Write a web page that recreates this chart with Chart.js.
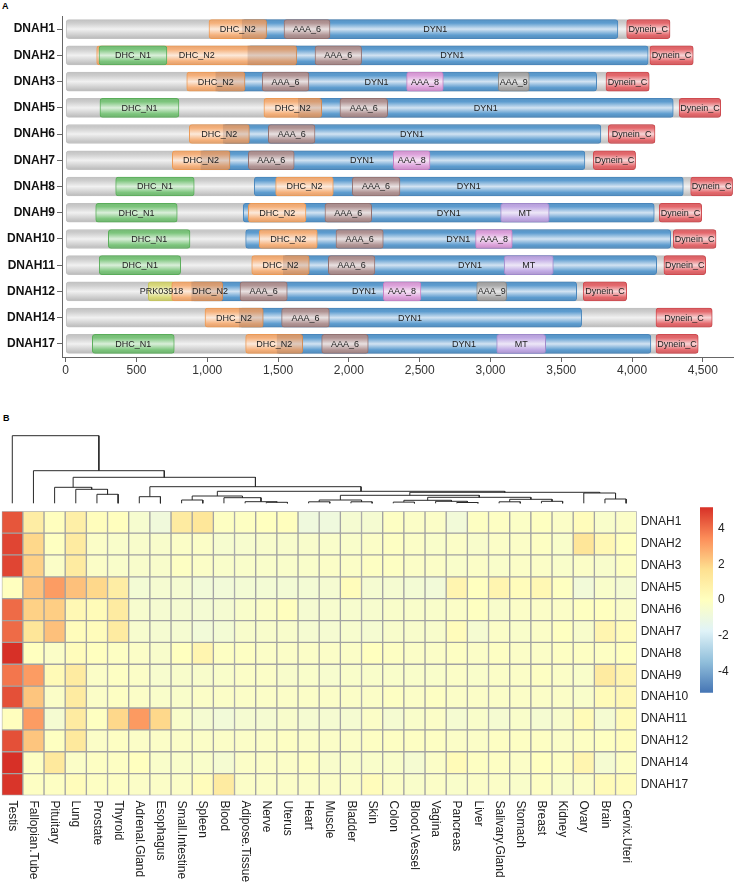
<!DOCTYPE html>
<html><head><meta charset="utf-8">
<script src="https://cdn.jsdelivr.net/npm/chart.js@4.4.0/dist/chart.umd.min.js"></script>
<style>
html,body{margin:0;padding:0;background:#fff;width:738px;height:888px;overflow:hidden;font-family:'Liberation Sans',Arial,sans-serif}
canvas{position:absolute}
.lab{position:absolute;font-weight:bold;font-size:9px;color:#000;font-family:'Liberation Sans',Arial,sans-serif}
</style></head><body>
<div class="lab" style="left:2px;top:1px">A</div>
<div class="lab" style="left:3px;top:413px">B</div>
<canvas id="cA" style="left:0;top:0;width:738px;height:385px" width="738" height="385"></canvas>
<canvas id="cD" style="left:0;top:425px;width:738px;height:85px" width="738" height="85"></canvas>
<canvas id="cH" style="left:0;top:500px;width:738px;height:388px" width="738" height="388"></canvas>
<canvas id="cL" style="left:690px;top:495px;width:48px;height:210px" width="48" height="210"></canvas>
<script>
// ---------------- Panel A data ----------------
const genes = ['DNAH1','DNAH2','DNAH3','DNAH5','DNAH6','DNAH7','DNAH8','DNAH9','DNAH10','DNAH11','DNAH12','DNAH14','DNAH17'];
const proteinLength = [4268,4432,4121,4626,4162,4025,4710,4492,4593,4520,3962,4566,4467];
const DYN1 = [[1247,3900],[1287,4114],[1061,3750],[1643,4291],[1113,3780],[956,3667],[1332,4362],[1254,4157],[1271,4273],[1537,4174],[890,3609],[1226,3644],[1494,4133]];
const DYN1_labelAt = [2610,2730,2195,null,null,2093,null,null,null,null,2107,2431,null];
const DHC_N1 = [null,[235,715],null,[242,800],null,null,[353,908],[212,788],[301,878],[237,812],null,null,[188,767]];
const DHC_N2 = [[1012,1419],[219,1631],[855,1266],[1400,1808],[873,1297],[753,1160],[1483,1890],[1290,1697],[1367,1777],[1314,1720],[749,1109],[984,1395],[1271,1674]];
const DHC_N2_labelAt = [null,null,null,null,null,null,null,null,null,null,1019,null,null];
const PRK03918 = [null,null,null,null,null,null,null,null,null,null,[583,772],null,null];
const AAA_6 = [[1542,1867],[1761,2090],[1388,1718],[1937,2274],[1431,1761],[1290,1614],[2024,2361],[1831,2161],[1909,2243],[1855,2184],[1231,1565],[1525,1862],[1808,2137]];
const AAA_8 = [null,null,[2408,2667],null,null,[2314,2573],null,null,[2895,3154],null,[2243,2509],null,null];
const AAA_9 = [null,null,[3055,3274],null,null,null,null,null,null,null,[2903,3114],null,null];
const MT = [null,null,null,null,null,null,null,[3072,3415],null,[3097,3444],null,null,[3044,3390]];
const Dynein_C = [[3962,4268],[4126,4432],[3816,4121],[4333,4626],[3832,4162],[3726,4025],[4414,4710],[4192,4492],[4291,4593],[4225,4520],[3655,3962],[4169,4566],[4169,4467]];
const xTicksA = [0,500,1000,1500,2000,2500,3000,3500,4000,4500];

// ---------------- Panel B data ----------------
const tissues = ['Testis','Fallopian.Tube','Pituitary','Lung','Prostate','Thyroid','Adrenal.Gland','Esophagus','Small.Intestine','Spleen','Blood','Adipose.Tissue','Nerve','Uterus','Heart','Muscle','Bladder','Skin','Colon','Blood.Vessel','Vagina','Pancreas','Liver','Salivary.Gland','Stomach','Breast','Kidney','Ovary','Brain','Cervix.Uteri'];
const expr_DNAH1 = [4.5,1.0,0.05,0.9,0.1,0.05,-0.5,-0.85,1.1,1.35,-0.1,-0.1,0.0,0.05,-0.9,-0.9,-0.55,-0.55,-0.12,-0.25,-0.25,-0.75,-0.1,-0.12,-0.2,-0.05,-0.25,0.15,-0.32,-0.25];
const expr_DNAH2 = [4.8,1.9,-0.05,1.1,-0.25,-0.32,-0.38,-0.38,-0.25,-0.25,-0.5,-0.45,-0.38,-0.38,-0.38,-0.32,-0.32,-0.25,-0.12,-0.25,-0.32,-0.25,-0.38,-0.25,-0.25,-0.12,-0.32,1.4,0.4,0.0];
const expr_DNAH3 = [4.8,2.05,-0.25,1.1,-0.25,-0.32,-0.38,-0.38,-0.12,-0.25,-0.32,-0.32,-0.32,-0.32,-0.32,-0.25,-0.25,-0.12,-0.12,-0.25,-0.25,-0.32,-0.25,-0.32,-0.25,-0.25,-0.32,-0.25,-0.38,-0.12];
const expr_DNAH5 = [0.0,2.35,3.15,2.4,1.9,1.0,-0.65,-0.55,-0.55,-0.75,-0.75,-0.65,-0.65,-0.65,-0.65,-0.55,0.15,-0.55,-0.55,-0.65,-0.75,0.55,0.0,0.55,0.15,0.4,-0.05,-0.75,-0.32,-0.55];
const expr_DNAH6 = [4.1,2.05,2.1,0.4,0.25,1.1,-0.45,-0.55,-0.55,-0.6,-0.55,-0.32,-0.25,0.05,-0.55,-0.45,-0.45,-0.45,-0.32,-0.32,-0.32,-0.25,-0.05,-0.38,-0.25,-0.25,-0.25,-0.05,0.0,-0.25];
const expr_DNAH7 = [4.1,1.4,2.4,0.15,0.15,1.1,-0.45,-0.55,-0.55,-0.75,-0.65,-0.38,-0.38,-0.38,-0.55,-0.55,-0.45,-0.55,-0.38,-0.38,-0.38,0.15,-0.55,-0.25,-0.32,-0.25,-0.05,-0.38,0.55,0.15];
const expr_DNAH8 = [5.2,0.0,-0.25,0.15,0.0,-0.12,-0.25,-0.38,0.0,0.55,-0.12,-0.12,-0.25,-0.25,-0.25,-0.25,-0.25,0.0,-0.12,-0.25,-0.25,-0.12,-0.25,-0.12,-0.25,-0.25,-0.12,-0.12,-0.12,0.0];
const expr_DNAH9 = [3.9,3.15,0.3,1.1,-0.25,-0.12,-0.25,-0.45,-0.38,-0.38,-0.32,-0.25,-0.25,-0.38,-0.32,-0.45,-0.32,-0.32,-0.32,-0.32,-0.32,-0.25,-0.32,-0.25,-0.25,-0.12,-0.25,-0.32,1.1,0.55];
const expr_DNAH10 = [4.6,2.3,-0.25,1.1,-0.25,-0.12,-0.25,-0.32,-0.32,-0.25,-0.25,-0.25,-0.25,-0.25,-0.25,-0.25,-0.25,-0.25,-0.12,-0.25,-0.12,-0.25,-0.25,-0.25,-0.25,-0.25,-0.25,-0.32,0.25,0.4];
const expr_DNAH11 = [0.05,3.15,-0.55,1.1,-0.05,1.9,3.2,1.9,-0.32,-0.55,-0.75,-0.55,-0.55,-0.38,-0.55,-0.55,-0.55,-0.25,-0.55,-0.32,-0.25,-0.55,-0.32,-0.55,-0.32,-0.55,-0.38,0.25,-0.55,0.25];
const expr_DNAH12 = [4.6,2.3,-0.05,1.25,-0.25,-0.12,-0.25,-0.25,-0.25,-0.25,-0.25,-0.25,-0.25,-0.12,-0.25,-0.25,-0.25,-0.12,-0.12,-0.12,-0.12,-0.25,-0.25,-0.12,-0.12,-0.12,-0.25,-0.12,-0.05,0.1];
const expr_DNAH14 = [5.2,-0.12,1.25,-0.25,-0.12,-0.12,0.0,-0.32,-0.32,-0.32,-0.55,-0.25,-0.25,-0.25,-0.12,-0.38,-0.32,-0.32,-0.32,-0.55,-0.25,0.25,-0.1,-0.12,-0.25,0.0,-0.12,0.55,-0.55,-0.12];
const expr_DNAH17 = [5.1,-0.12,-0.12,0.15,-0.12,-0.12,-0.25,-0.25,-0.25,0.15,1.1,-0.25,-0.25,-0.25,-0.25,-0.25,-0.25,0.15,-0.25,-0.32,-0.25,-0.32,-0.25,-0.25,-0.32,-0.12,-0.32,-0.25,0.25,0.15];
const legendTicks = [-4,-2,0,2,4];
const colorRange = [-5.2, 5.2];
// column dendrogram: [height, left, right]; leaves are column indices
const colTree = [67.6, 0, [32.6, 1, [26,
  [16, 2, [14, 3, [9, 4, 5]]],
  [16.6, [6.6, 6, 7],
    [12, [7.3, [3.3, 8, 9], [5.6, 10, [1.6, 11, [1, 12, 13]]]],
         [11, [8, [3.3, [1.5, 14, 15], [1.5, 16, 17]],
                  [6, [3, [1.2, 18, 19], [2, 20, [0.8, 21, 22]]], [4, [1.5, 23, 24], [2, 25, 26]]]],
              [10.3, 27, [4.3, 28, 29]]]]]]]];

// ---------------- helpers ----------------
Chart.defaults.font.family = "'Liberation Sans', Arial, sans-serif";
Chart.defaults.animation = false;
Chart.defaults.plugins.legend.display = false;
Chart.defaults.plugins.tooltip.enabled = false;
function hex2rgb(h){h=h.replace('#','');return [parseInt(h.slice(0,2),16),parseInt(h.slice(2,4),16),parseInt(h.slice(4,6),16)];}
function rgb2hex(c){return '#'+c.map(v=>Math.max(0,Math.min(255,Math.round(v))).toString(16).padStart(2,'0')).join('');}
function mix(a,b,t){const A=hex2rgb(a),B=hex2rgb(b);return rgb2hex(A.map((v,i)=>v+(B[i]-v)*t));}

function glossy(base){
  return (ctx) => {
    const chart = ctx.chart, ys = chart.scales && chart.scales.y;
    if (!chart.chartArea || !ys || ctx.type !== 'data') return base;
    const yc = ys.getPixelForValue(ctx.dataIndex);
    if (!isFinite(yc)) return base;
    const g = chart.ctx.createLinearGradient(0, yc - 9.5, 0, yc + 9.5);
    g.addColorStop(0, mix(base,'#000000',0.06));
    g.addColorStop(0.18, base);
    g.addColorStop(0.5, mix(base,'#ffffff',0.72));
    g.addColorStop(0.82, base);
    g.addColorStop(1, mix(base,'#000000',0.1));
    return g;
  };
}

// part of DHC_N2 lying over the start of DYN1 (seen through, darker)
const overlapN2 = DHC_N2.map((d,i)=>{
  const y = DYN1[i];
  return (d && y && y[0] > d[0] && y[0] < d[1]) ? [y[0], d[1]] : null;
});

const domainSpecs = [
  {label:'DHC_N1', data:DHC_N1, color:'#7cc57c', border:'#5aad5a', order:20},
  {label:'DHC_N2', data:DHC_N2, labelAt:DHC_N2_labelAt, color:'#f5b07a', border:'#ec9a55', order:30},
  {label:'PRK03918', data:PRK03918, color:'#d9d97a', border:'#c4c45e', order:40},
  {label:'AAA_6', data:AAA_6, color:'#b09393', border:'#927272', order:15},
  {label:'AAA_8', data:AAA_8, color:'#dca0da', border:'#c47fc2', order:15},
  {label:'AAA_9', data:AAA_9, color:'#a9a9a9', border:'#888888', order:15},
  {label:'MT', data:MT, color:'#c0a9e4', border:'#a08acb', order:15},
  {label:'Dynein_C', data:Dynein_C, color:'#e4686c', border:'#cf4b50', order:15},
  {label:'DYN1', data:DYN1, labelAt:DYN1_labelAt, color:'#5d9ccf', border:'#4a86bb', order:80}
];

const datasetsA = [{
  label:'', data: proteinLength.map(l=>[0,l]), backgroundColor: glossy('#cdcdcd'),
  borderColor:'#c2c2c2', borderWidth:1, borderRadius:3, borderSkipped:false, order:100, showName:false
}].concat(domainSpecs.map(s=>({
  label:s.label, data:s.data, labelAt:s.labelAt, backgroundColor: glossy(s.color),
  borderColor:s.border, borderWidth:1, borderRadius:3, borderSkipped:false, order:s.order, showName:true
}))).concat([{
  label:'', data: overlapN2, backgroundColor:'rgba(120,95,95,0.22)', borderWidth:0, order:25, showName:false
}]);

const domainLabelPlugin = {
  id:'domLabels',
  afterDatasetsDraw(chart){
    const ctx = chart.ctx, xs = chart.scales.x;
    ctx.save();
    ctx.font = "9px 'Liberation Sans', Arial, sans-serif";
    ctx.fillStyle = '#222'; ctx.textAlign='center'; ctx.textBaseline='middle';
    chart.data.datasets.forEach((ds, di) => {
      if (!ds.showName) return;
      const meta = chart.getDatasetMeta(di);
      meta.data.forEach((el, i) => {
        if (!ds.data[i]) return;
        const la = ds.labelAt ? ds.labelAt[i] : null;
        const x = (la != null) ? xs.getPixelForValue(la) : (el.x + el.base)/2;
        ctx.fillText(ds.label, x, el.y + 0.5);
      });
    });
    ctx.restore();
  }
};

new Chart(document.getElementById('cA'), {
  type:'bar',
  data:{ labels: genes, datasets: datasetsA },
  options:{
    responsive:false, indexAxis:'y',
    datasets:{ bar:{ grouped:false, barThickness:19 } },
    layout:{ padding:{ left:0, right:5, top:16, bottom:6 } },
    scales:{
      x:{ type:'linear', min:-26, max:4713,
          grid:{ drawOnChartArea:false, tickLength:5, color:'#666' },
          border:{ color:'#666' },
          ticks:{ font:{size:12}, color:'#333', padding:1, callback:v=>Number(v).toLocaleString('en-US') },
          afterBuildTicks:s=>{ s.ticks = xTicksA.map(v=>({value:v})); },
          afterFit:s=>{ s.height = 22; } },
      y:{ type:'category', offset:true,
          grid:{ offset:false, drawOnChartArea:false, tickLength:5, color:'#666' },
          border:{ color:'#666' },
          ticks:{ font:{size:12, weight:'bold'}, color:'#111', padding:2 },
          afterFit:s=>{ s.width = 62; } }
    }
  },
  plugins:[domainLabelPlugin]
});

// ---------------- Panel B: heatmap ----------------
const exprRows = [expr_DNAH1,expr_DNAH2,expr_DNAH3,expr_DNAH5,expr_DNAH6,expr_DNAH7,expr_DNAH8,expr_DNAH9,expr_DNAH10,expr_DNAH11,expr_DNAH12,expr_DNAH14,expr_DNAH17];
const palette = ['#4575B4','#91BFDB','#E0F3F8','#FFFFBF','#FEE090','#FC8D59','#D73027'];
function heatColor(v){
  const lo = colorRange[0], hi = colorRange[1];
  const t = (Math.max(lo, Math.min(hi, v)) - lo)/(hi-lo)*(palette.length-1);
  const i = Math.min(palette.length-2, Math.floor(t));
  return mix(palette[i], palette[i+1], t - i);
}

const xLabelPlugin = {
  id:'xLabels',
  afterDraw(chart){
    const ctx = chart.ctx, xs = chart.scales.x, b = chart.chartArea.bottom;
    ctx.save();
    ctx.font = "12px 'Liberation Sans', Arial, sans-serif";
    ctx.fillStyle = '#222'; ctx.textAlign='left'; ctx.textBaseline='middle';
    tissues.forEach((t,i)=>{
      ctx.save();
      ctx.translate(xs.getPixelForValue(i), b + 5);
      ctx.rotate(Math.PI/2);
      ctx.fillText(t, 0, 0);
      ctx.restore();
    });
    ctx.restore();
  }
};

new Chart(document.getElementById('cH'), {
  type:'bar',
  data:{ labels: tissues, datasets: genes.map((g,r)=>({
    label:g, data: tissues.map(()=>1), backgroundColor: exprRows[r].map(heatColor),
    borderColor:'#a2a2a2', borderWidth:1, borderSkipped:false, barPercentage:1, categoryPercentage:1
  })) },
  options:{
    responsive:false,
    layout:{ padding:{ left:1.7, top:3.3, right:41.3, bottom:92.5 } },
    scales:{
      x:{ type:'category', display:false, stacked:true },
      y:{ type:'linear', stacked:true, reverse:true, min:0, max:genes.length, position:'right',
          grid:{ display:false, drawTicks:false }, border:{ display:false },
          ticks:{ font:{size:12}, color:'#222', padding:4, callback:v=>genes[Math.floor(v)] },
          afterBuildTicks:s=>{ s.ticks = genes.map((g,i)=>({value:i+0.5})); },
          afterFit:s=>{ s.width = 60; } }
    }
  },
  plugins:[xLabelPlugin]
});

// ---------------- Panel B: dendrogram ----------------
const dendroSegs = [];
function walk(node){
  if (typeof node === 'number') return {x:node, h:0};
  const L = walk(node[1]), R = walk(node[2]), h = node[0];
  dendroSegs.push([{x:L.x,y:L.h},{x:L.x,y:h},{x:R.x,y:h},{x:R.x,y:R.h}]);
  return {x:(L.x+R.x)/2, h:h};
}
walk(colTree);
new Chart(document.getElementById('cD'), {
  type:'scatter',
  data:{ datasets: dendroSegs.map(seg=>({ data:seg, showLine:true, borderColor:'#2a2a2a', borderWidth:1, pointRadius:0, fill:false, clip:false })) },
  options:{
    responsive:false,
    layout:{ padding:{ left:1.7, right:101.3, top:10.7, bottom:6.7 } },
    scales:{
      x:{ type:'linear', min:-0.5, max:tissues.length-0.5, display:false },
      y:{ type:'linear', min:0, max:colTree[0], display:false }
    }
  }
});

// ---------------- Panel B: colour key ----------------
new Chart(document.getElementById('cL'), {
  type:'bar',
  data:{ labels:[''], datasets:[{
    data:[[colorRange[0], colorRange[1]]], borderWidth:0, barPercentage:1, categoryPercentage:1,
    backgroundColor:(ctx)=>{
      const ca = ctx.chart.chartArea; if (!ca) return palette[3];
      const g = ctx.chart.ctx.createLinearGradient(0, ca.bottom, 0, ca.top);
      palette.forEach((c,i)=>g.addColorStop(i/(palette.length-1), c));
      return g;
    }
  }] },
  options:{
    responsive:false,
    layout:{ padding:{ left:10, right:0, top:8.3, bottom:8.7 } },
    scales:{
      x:{ display:false },
      y:{ min:colorRange[0], max:colorRange[1], position:'right',
          grid:{ display:false, drawTicks:false }, border:{ display:false },
          ticks:{ font:{size:12}, color:'#222', padding:5 },
          afterBuildTicks:s=>{ s.ticks = legendTicks.map(v=>({value:v})); },
          afterFit:s=>{ s.width = 25; } }
    }
  }
});
</script>
</body></html>
